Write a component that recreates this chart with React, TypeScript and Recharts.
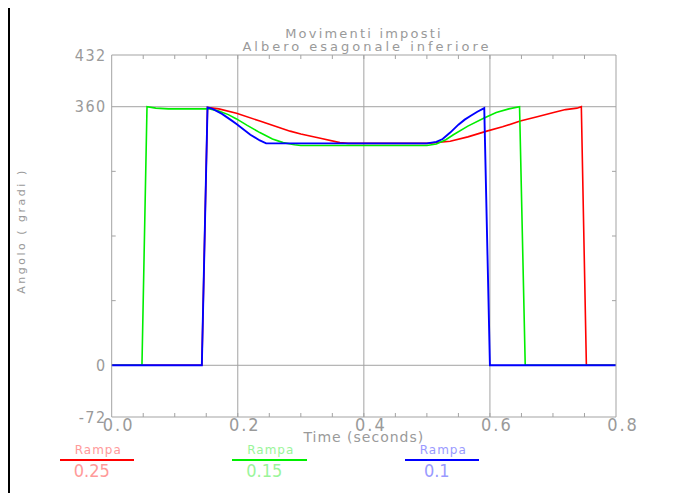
import { LineChart, Line, XAxis, YAxis, ReferenceLine } from 'recharts';

// time (s) / angle (gradi)
const redT = [0, 0.143, 0.152, 0.17, 0.198, 0.235, 0.283, 0.3, 0.331, 0.362, 0.375, 0.45, 0.5, 0.537, 0.565, 0.595, 0.62, 0.648, 0.675, 0.701, 0.72, 0.738, 0.745, 0.753, 0.8];
const redV = [0, 0, 359, 357, 351, 340, 326, 322, 316, 310, 309, 309, 309, 312, 318, 326, 332, 340, 346, 352, 356, 358, 360, 0, 0];

const greenT = [0, 0.048, 0.056, 0.07, 0.09, 0.155, 0.17, 0.185, 0.198, 0.215, 0.235, 0.255, 0.272, 0.29, 0.3, 0.4, 0.5, 0.515, 0.53, 0.542, 0.565, 0.59, 0.61, 0.63, 0.647, 0.656, 0.8];
const greenV = [0, 0, 360, 358, 357, 357, 354, 349, 343, 334, 324, 315, 310, 307, 306, 306, 306, 308, 314, 321, 333, 344, 352, 357, 360, 0, 0];

const blueT = [0, 0.143, 0.152, 0.16, 0.175, 0.19, 0.198, 0.22, 0.235, 0.245, 0.3, 0.4, 0.5, 0.515, 0.525, 0.537, 0.55, 0.56, 0.569, 0.58, 0.591, 0.6, 0.8];
const blueV = [0, 0, 359, 357, 350, 341, 336, 321, 313, 309, 309, 309, 309, 311, 315, 324, 335, 342, 347, 353, 358, 0, 0];

const xTicks = [0, 0.2, 0.4, 0.6, 0.8];
const xMinorTicks = [0.05, 0.1, 0.15, 0.2, 0.25, 0.3, 0.35, 0.4, 0.45, 0.5, 0.55, 0.6, 0.65, 0.7, 0.75];
const yTicks = [-72, 0, 360, 432];
const yMinorTicks = [90, 180, 270];
const xGrid = [0.2, 0.4, 0.6];
const yGrid = [0, 360];

const series = [
  { name: '0.25', color: '#ff0000', text: '#ff9a9a', width: 1.6, t: redT, v: redV },
  { name: '0.15', color: '#00ee00', text: '#9af59a', width: 1.6, t: greenT, v: greenV },
  { name: '0.1', color: '#0000ff', text: '#9a9aff', width: 1.9, t: blueT, v: blueV },
];

const GRAY = '#a3a3a3';
const TEXT = '#9a9a9a';
const WORD_FONT = '"DejaVu Sans", sans-serif';
const NUM_FONT = '"Liberation Sans Narrow", "DejaVu Sans Condensed", "Liberation Sans", sans-serif';
const TICK_LEN = 4;

const toPoints = (t: number[], v: number[]) => t.map((x, i) => ({ t: x, v: v[i] }));

// inward tick marks: (dx, dy) is the direction into the plot
const innerTick = (dx: number, dy: number) => (props: any) => (
  <line
    x1={props.x}
    y1={props.y}
    x2={props.x + dx * TICK_LEN}
    y2={props.y + dy * TICK_LEN}
    stroke={GRAY}
    strokeWidth={1}
  />
);

export default function App() {
  return (
    <div style={{ position: 'relative', width: 675, height: 485, overflow: 'hidden', fontFamily: WORD_FONT }}>
      <div
        style={{
          position: 'absolute', left: -1, top: -3, width: 720, height: 520,
          borderTop: '3px solid #000', borderLeft: '3px solid #000',
        }}
      />
      <div style={{ position: 'absolute', left: 0, width: 712, top: 19, textAlign: 'center', fontSize: 13, lineHeight: '13px', letterSpacing: 2.2, color: TEXT }}>
        Movimenti imposti
      </div>
      <div style={{ position: 'absolute', left: 0, width: 718, top: 32, textAlign: 'center', fontSize: 13, lineHeight: '13px', letterSpacing: 3, color: TEXT }}>
        Albero esagonale inferiore
      </div>
      <div
        style={{
          position: 'absolute', left: 13, top: 223, transform: 'translate(-50%, -50%) rotate(-90deg)',
          whiteSpace: 'nowrap', fontSize: 11, letterSpacing: 2.5, color: TEXT,
        }}
      >
        Angolo ( gradi )
      </div>

      <LineChart width={675} height={485} margin={{ top: 47, right: 67, bottom: 46, left: 0 }}>
        <XAxis
          type="number"
          dataKey="t"
          domain={[0, 0.8]}
          ticks={xTicks}
          tickFormatter={(v) => v.toFixed(1)}
          height={30}
          stroke={GRAY}
          tickLine={false}
          tickSize={0}
          tickMargin={1}
          tick={{ fill: TEXT, fontSize: 18, fontFamily: NUM_FONT, letterSpacing: 2, dx: 7 }}
          label={{ value: 'Time (seconds)', position: 'insideBottom', offset: 5, fill: TEXT, fontSize: 14, letterSpacing: 1, fontFamily: WORD_FONT }}
        />
        <XAxis xAxisId="minor" type="number" dataKey="t" domain={[0, 0.8]} allowDataOverflow ticks={xMinorTicks} mirror axisLine={false} tickLine={false} tickSize={0} tickMargin={0} tick={innerTick(0, -1)} />
        <XAxis xAxisId="top" orientation="top" type="number" dataKey="t" domain={[0, 0.8]} allowDataOverflow ticks={xMinorTicks} mirror stroke={GRAY} tickLine={false} tickSize={0} tickMargin={0} tick={innerTick(0, 1)} />
        <YAxis
          type="number"
          domain={[-72, 432]}
          ticks={yTicks}
          width={103.7}
          stroke={GRAY}
          tickLine={false}
          tickSize={3}
          tickMargin={2}
          tick={{ fill: TEXT, fontSize: 16, fontFamily: NUM_FONT, letterSpacing: 1.5 }}
        />
        <YAxis yAxisId="minor" type="number" domain={[-72, 432]} allowDataOverflow ticks={yMinorTicks} mirror axisLine={false} tickLine={false} tickSize={0} tickMargin={0} tick={innerTick(1, 0)} />
        <YAxis yAxisId="right" orientation="right" type="number" domain={[-72, 432]} allowDataOverflow ticks={yMinorTicks} mirror stroke={GRAY} tickLine={false} tickSize={0} tickMargin={0} tick={innerTick(-1, 0)} />

        {xGrid.map((x) => (
          <ReferenceLine key={`x${x}`} x={x} stroke={GRAY} />
        ))}
        {yGrid.map((y) => (
          <ReferenceLine key={`y${y}`} y={y} stroke={GRAY} />
        ))}

        {series.map((s) => (
          <Line
            key={s.name}
            data={toPoints(s.t, s.v)}
            dataKey="v"
            name={s.name}
            type="linear"
            stroke={s.color}
            strokeWidth={s.width}
            dot={false}
            activeDot={false}
            isAnimationActive={false}
          />
        ))}
      </LineChart>

      {series.map((s, i) => (
        <div key={s.name} style={{ position: 'absolute', left: 51.5 + i * 172.5, top: 436, width: 74.5, height: 36 }}>
          <div style={{ position: 'absolute', left: 0, right: 0, top: 0, textAlign: 'center', paddingLeft: 3, fontSize: 12, lineHeight: '12px', letterSpacing: 1, color: s.text }}>
            Rampa
          </div>
          <div style={{ position: 'absolute', left: 0, right: 0, top: 15, height: 2, background: s.color }} />
          <div style={{ position: 'absolute', left: 0, right: 0, top: 18, textAlign: 'center', paddingRight: 10, fontSize: 18, lineHeight: '18px', fontFamily: NUM_FONT, color: s.text }}>
            {s.name}
          </div>
        </div>
      ))}
    </div>
  );
}
